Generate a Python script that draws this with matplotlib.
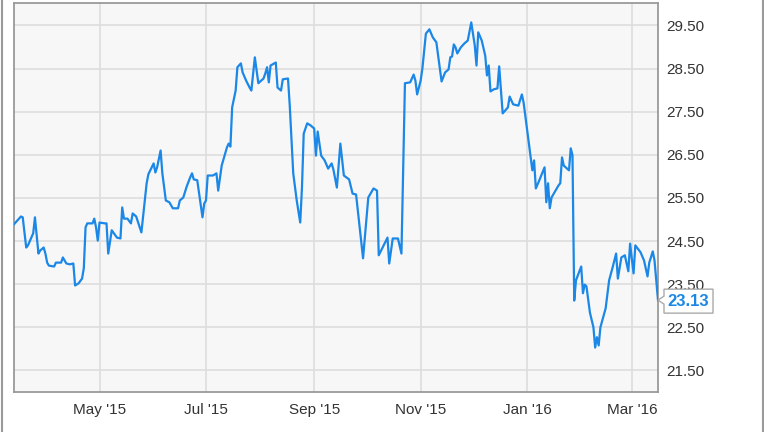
import matplotlib
matplotlib.use('Agg')
from matplotlib import pyplot as plt
import matplotlib.dates as mdates
import matplotlib.transforms as mtrans
from matplotlib.lines import Line2D
from matplotlib.patches import Polygon
import pandas as pd

plt.rcParams['font.family'] = ['Liberation Sans', 'DejaVu Sans']

# price series
dates = [
	'2015-03-13','2015-03-17','2015-03-18','2015-03-20','2015-03-21','2015-03-24','2015-03-25','2015-03-27',
	'2015-03-28','2015-03-30','2015-03-31','2015-04-01','2015-04-02','2015-04-05','2015-04-06','2015-04-09',
	'2015-04-10','2015-04-11','2015-04-12','2015-04-14','2015-04-16','2015-04-17','2015-04-19','2015-04-21',
	'2015-04-22','2015-04-23','2015-04-24','2015-04-27','2015-04-28','2015-04-29','2015-04-30','2015-05-01',
	'2015-05-04','2015-05-05','2015-05-06','2015-05-08','2015-05-11','2015-05-13','2015-05-14','2015-05-15',
	'2015-05-17','2015-05-19','2015-05-20','2015-05-22','2015-05-25','2015-05-28','2015-05-29','2015-06-01',
	'2015-06-02','2015-06-03','2015-06-05','2015-06-06','2015-06-08','2015-06-10','2015-06-12','2015-06-15',
	'2015-06-16','2015-06-18','2015-06-20','2015-06-22','2015-06-23','2015-06-24','2015-06-26','2015-06-29',
	'2015-06-30','2015-07-01','2015-07-02','2015-07-05','2015-07-07','2015-07-08','2015-07-10','2015-07-13',
	'2015-07-14','2015-07-15','2015-07-16','2015-07-18','2015-07-19','2015-07-21','2015-07-22','2015-07-24',
	'2015-07-26','2015-07-27','2015-07-29','2015-07-31','2015-08-03','2015-08-04','2015-08-05','2015-08-06',
	'2015-08-07','2015-08-10','2015-08-11','2015-08-13','2015-08-14','2015-08-17','2015-08-18','2015-08-20',
	'2015-08-22','2015-08-24','2015-08-25','2015-08-26','2015-08-28','2015-08-30','2015-09-01','2015-09-02',
	'2015-09-03','2015-09-05','2015-09-07','2015-09-09','2015-09-11','2015-09-12','2015-09-14','2015-09-16',
	'2015-09-18','2015-09-21','2015-09-23','2015-09-25','2015-09-29','2015-10-02','2015-10-05','2015-10-07',
	'2015-10-08','2015-10-13','2015-10-14','2015-10-16','2015-10-19','2015-10-21','2015-10-23','2015-10-26',
	'2015-10-28','2015-10-29','2015-10-30','2015-11-01','2015-11-02','2015-11-04','2015-11-06','2015-11-08',
	'2015-11-10','2015-11-13','2015-11-15','2015-11-17','2015-11-18','2015-11-19','2015-11-20','2015-11-21',
	'2015-11-22','2015-11-24','2015-11-26','2015-11-28','2015-11-30','2015-12-02','2015-12-03','2015-12-04',
	'2015-12-06','2015-12-08','2015-12-09','2015-12-10','2015-12-11','2015-12-13','2015-12-15','2015-12-16',
	'2015-12-18','2015-12-21','2015-12-22','2015-12-24','2015-12-27','2015-12-29','2015-12-30','2016-01-04',
	'2016-01-05','2016-01-06','2016-01-08','2016-01-11','2016-01-12','2016-01-13','2016-01-14','2016-01-15',
	'2016-01-19','2016-01-20','2016-01-21','2016-01-22','2016-01-25','2016-01-26','2016-01-27','2016-01-28',
	'2016-01-29','2016-02-01','2016-02-02','2016-02-03','2016-02-04','2016-02-06','2016-02-08','2016-02-09',
	'2016-02-10','2016-02-11','2016-02-12','2016-02-15','2016-02-17','2016-02-19','2016-02-21','2016-02-22',
	'2016-02-24','2016-02-26','2016-02-27','2016-02-28','2016-02-29','2016-03-02','2016-03-03','2016-03-06',
	'2016-03-08','2016-03-10','2016-03-11','2016-03-13','2016-03-14','2016-03-16',
]
prices = [
	24.89,25.07,25.05,24.35,24.40,24.68,25.05,24.21,
	24.28,24.35,24.21,24.00,23.93,23.91,24.00,24.00,
	24.12,24.05,23.98,23.96,23.98,23.47,23.52,23.63,
	23.87,24.82,24.91,24.91,25.02,24.82,24.51,24.93,
	24.91,24.91,24.21,24.75,24.58,24.56,25.28,25.02,
	25.02,24.91,25.14,25.07,24.70,25.84,26.05,26.30,
	26.09,26.21,26.60,26.07,25.44,25.40,25.26,25.26,
	25.44,25.51,25.77,25.98,26.07,25.93,25.91,25.05,
	25.37,25.44,26.02,26.02,26.07,25.67,26.25,26.67,
	26.76,26.69,27.60,27.99,28.53,28.62,28.41,28.22,
	28.06,27.99,28.76,28.16,28.27,28.39,28.53,28.18,
	28.57,28.64,28.06,27.99,28.25,28.27,27.64,26.07,
	25.44,24.93,25.74,26.99,27.23,27.18,27.11,26.48,
	27.04,26.48,26.37,26.18,26.30,26.16,25.74,26.76,
	26.02,25.93,25.60,25.58,24.10,25.51,25.72,25.67,
	24.17,24.58,23.98,24.56,24.56,24.21,28.16,28.18,
	28.36,28.22,27.90,28.22,28.50,29.31,29.41,29.22,
	29.11,28.20,28.41,28.48,28.76,28.78,29.06,28.99,
	28.85,28.99,29.08,29.15,29.57,29.04,28.57,29.34,
	29.15,28.80,28.34,28.57,27.97,28.02,28.04,28.55,
	27.46,27.60,27.85,27.67,27.64,27.90,27.71,26.14,
	26.37,25.72,25.91,26.21,25.40,25.84,25.26,25.51,
	25.79,25.84,26.44,26.25,26.14,26.65,26.49,23.12,
	23.59,23.91,23.29,23.49,23.45,22.84,22.50,22.03,
	22.27,22.08,22.50,22.94,23.59,23.89,24.21,23.63,
	24.12,24.17,23.98,23.80,24.44,23.75,24.40,24.24,
	24.05,23.68,24.00,24.26,24.05,23.13,
]
y_ticks = [21.5, 22.5, 23.5, 24.5, 25.5, 26.5, 27.5, 28.5, 29.5]
x_ticks = ['2015-05-01','2015-07-01','2015-09-01','2015-11-01','2016-01-01','2016-03-01']

LINE = '#1b87e6'
GRID = '#dddddd'
EDGE = '#9a9a9a'

t = pd.to_datetime(dates)

fig = plt.figure(figsize=(7.64, 4.32), dpi=100)
ax = fig.add_axes([14/764, 40/432, 644/764, 389/432])
ax.set_facecolor('#f7f7f7')

ax.plot(t, prices, color=LINE, linewidth=1.6, zorder=3)

ax.set_xlim(t[0], t[-1])
ax.set_ylim(21.0, 30.02)

ax.yaxis.tick_right()
ax.set_yticks(y_ticks)
ax.set_yticklabels(['%.2f' % v for v in y_ticks])
ax.set_xticks(pd.to_datetime(x_ticks))
ax.xaxis.set_major_formatter(mdates.DateFormatter("%b '%y"))
ax.tick_params(axis='both', length=0, labelsize=11, colors='#333333')
ax.tick_params(axis='y', pad=6)
ax.tick_params(axis='x', pad=8)

ax.grid(True, color=GRID, linewidth=1.2, zorder=0)
ax.set_axisbelow(True)
for s in ax.spines.values():
	s.set_color(EDGE)
	s.set_linewidth(1.3)

# last value flag: callout box pointing at the last point
px, py = ax.transData.transform((mdates.date2num(t[-1]), prices[-1]))
flag = [(0, 0), (6, 4), (6, 11), (55, 11), (55, -13), (6, -13), (6, -4)]
fig.add_artist(Polygon([(px + a, py + b) for a, b in flag], closed=True,
	transform=mtrans.IdentityTransform(), facecolor='white', edgecolor='#aaaaaa',
	linewidth=1, zorder=10, clip_on=False))
fig.text(px + 30.5, py - 1, '%.2f' % prices[-1], transform=mtrans.IdentityTransform(),
	ha='center', va='center', fontsize=12, fontweight='bold', color=LINE, zorder=11)

# outer frame lines on the left and right
fig.add_artist(Line2D([1.5/764, 1.5/764], [0, 1], color='#9a9a9a', linewidth=1.5))
fig.add_artist(Line2D([762.5/764, 762.5/764], [0, 1], color='#9a9a9a', linewidth=1.5))

plt.savefig('out.png', dpi=100)
plt.close()
